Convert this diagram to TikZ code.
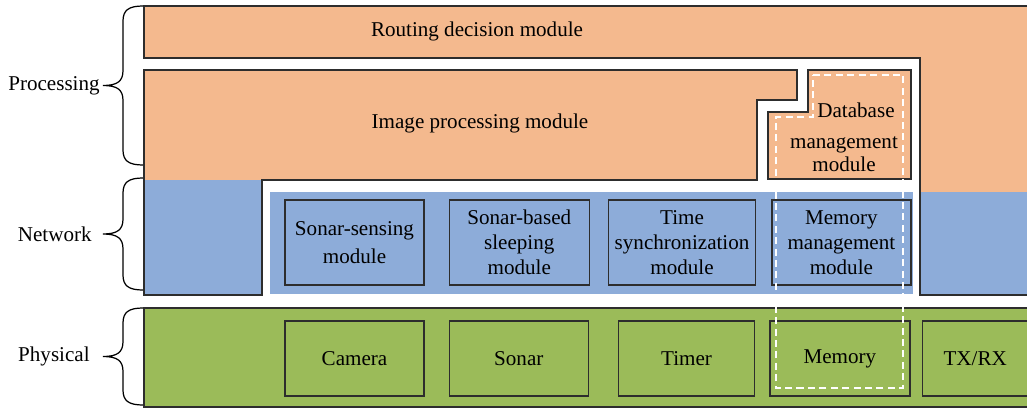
\documentclass[tikz,border=0pt]{standalone}
\usepackage{fontspec}
\setmainfont{Liberation Serif}
\usepackage{tikz}
\usetikzlibrary{positioning}
\definecolor{procorange}{RGB}{244,185,142}
\definecolor{netblue}{RGB}{141,172,217}
\definecolor{physgreen}{RGB}{155,187,89}
\definecolor{edgegray}{RGB}{45,45,45}

% brace opening to the right: x, top y, bottom y, name of its tip
\newcommand{\layerbrace}[4]{%
  \draw[bracestyle] (#1,#2) .. controls (#1-14,#2) and (#1-20,#2+4) .. (#1-20,#2+15)
    -- (#1-20,{(#2+#3)/2-15}) .. controls (#1-20,{(#2+#3)/2-4}) and (#1-26,{(#2+#3)/2}) .. (#1-40,{(#2+#3)/2})
    .. controls (#1-26,{(#2+#3)/2}) and (#1-20,{(#2+#3)/2+4}) .. (#1-20,{(#2+#3)/2+15})
    -- (#1-20,#3-15) .. controls (#1-20,#3-4) and (#1-14,#3) .. (#1,#3);
  \coordinate (#4) at (#1-40,{(#2+#3)/2});
}

\begin{document}
\begin{tikzpicture}[
  x=0.02cm, y=-0.02cm,
  every node/.style={font=\fontsize{12}{14.2}\selectfont},
  layeredge/.style={draw=edgegray, line width=0.9pt},
  module/.style={draw=edgegray, line width=0.75pt, align=center, inner sep=0pt},
  netmod/.style={module, minimum width=2.78cm, minimum height=1.7cm},
  physmod/.style={module, minimum width=2.78cm, minimum height=1.5cm},
  bracestyle/.style={draw=black, line width=0.7pt},
  dbframe/.style={draw=white, line width=0.8pt, dash pattern=on 4pt off 2.5pt},
]
\useasboundingbox (0,0) rectangle (1027,409);

% Processing layer: routing decision module, down the right side
\fill[procorange] (144,6) -- (1027,6) -- (1027,192) -- (920,192) -- (920,58) -- (144,58) -- cycle;
\fill[netblue] (920,192) rectangle (1027,295);
\draw[layeredge] (1027,6) -- (144,6) -- (144,58) -- (920,58) -- (920,295) -- (1027,295);

% image processing module, down the left side
\fill[procorange] (144,70) -- (797,70) -- (797,100) -- (757,100) -- (757,180) -- (144,180) -- cycle;
\fill[netblue] (144,180) rectangle (262,295);
\draw[layeredge] (144,70) -- (797,70) -- (797,100) -- (757,100) -- (757,180)
  -- (262,180) -- (262,295) -- (144,295) -- cycle;

% database management module
\draw[layeredge, fill=procorange] (808,70) -- (911,70) -- (911,179) -- (768,179)
  -- (768,112) -- (808,112) -- cycle;

% Network and physical bands
\fill[netblue] (270,192) rectangle (913,294);
\draw[layeredge, fill=physgreen] (1027,308) -- (144,308) -- (144,407) -- (1027,407);

\node (routing) at (477,31) {Routing decision module};
\node (imgproc) at (480,123) {Image processing module};
\node[align=center] (dbase) at (844,137)
  {\hspace*{0.48cm}Database\\[3.4pt]management\\[-1.2pt]module};

% Network modules
\node[netmod] (sonsense) at (354.5,242.5) {Sonar-sensing\\[2pt]module};
\node[netmod, minimum width=2.8cm, right=0.48cm of sonsense] (sonsleep) {Sonar-based\\sleeping\\module};
\node[netmod, minimum width=2.94cm, right=0.36cm of sonsleep] (timesync) {Time\\synchronization\\module};
\node[netmod, right=0.3cm of timesync] (memmgmt) {Memory\\management\\module};

% Physical modules
\node[physmod] (camera) at (354.5,358.5) {Camera};
\node[physmod, right=0.48cm of camera] (sonar) {Sonar};
\node[physmod, minimum width=2.72cm, right=0.58cm of sonar] (timer) {Timer};
\node[physmod, minimum width=2.8cm, right=0.28cm of timer] (memory) {Memory};
\node[physmod, minimum width=2.12cm, right=0.22cm of memory] (txrx) {TX/RX};

% Storage path
\draw[dbframe] (813,75) -- (903,75) -- (903,388) -- (776,388) -- (776,117) -- (813,117) -- cycle;

% Layer braces
\layerbrace{143}{6}{165}{proctip}
\layerbrace{143}{178}{290}{nettip}
\layerbrace{143}{308}{405}{phystip}
\node[left=0.06cm of proctip, inner sep=0pt] (proclabel) {Processing};
\node[left=0.22cm of nettip, inner sep=0pt] (netlabel) {Network};
\node[left=0.26cm of phystip, inner sep=0pt] (physlabel) {Physical};

\end{tikzpicture}
\end{document}
